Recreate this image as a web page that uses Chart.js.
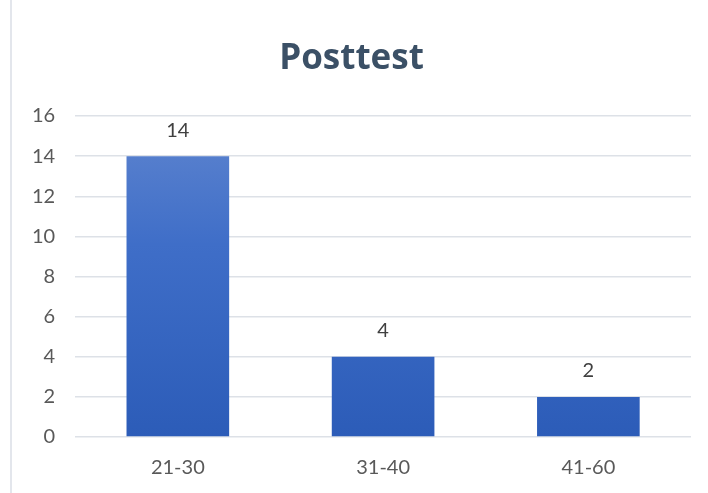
<!DOCTYPE html>
<html>
<head>
<meta charset="utf-8">
<script src="https://cdn.jsdelivr.net/npm/chart.js@4"></script>
<style>
  html, body { margin: 0; padding: 0; background: #fff; }
  #wrap { position: relative; width: 708px; height: 493px; }
  #wrap:before { content: ""; position: absolute; left: 10px; top: 0; bottom: 0; width: 2px; background: #e3e6ec; }
</style>
</head>
<body>
<div id="wrap"><canvas id="chart" width="708" height="493"></canvas></div>
<script>
var categories = ["21-30", "31-40", "41-60"];
var posttest = [14, 4, 2];
var yTicks = [0, 2, 4, 6, 8, 10, 12, 14, 16];

function barGradient(context) {
  var chart = context.chart;
  var area = chart.chartArea;
  if (!area) return "#3f6cc4";
  var el = context.element;
  var top = el && el.y != null ? el.y : area.top;
  var bottom = el && el.base != null ? el.base : area.bottom;
  if (!isFinite(top) || !isFinite(bottom) || top === bottom) return "#3f6cc4";
  var g = chart.ctx.createLinearGradient(0, top, 0, bottom);
  g.addColorStop(0, "#5f85cf");
  g.addColorStop(0.4, "#3f6ec8");
  g.addColorStop(1, "#2c5cb8");
  return g;
}

var valueLabels = {
  id: "valueLabels",
  afterDatasetsDraw: function (chart) {
    var ctx = chart.ctx;
    var meta = chart.getDatasetMeta(0);
    ctx.save();
    ctx.font = "20px Lato";
    ctx.fillStyle = "#404040";
    ctx.textAlign = "center";
    ctx.textBaseline = "bottom";
    meta.data.forEach(function (bar, i) {
      ctx.fillText(posttest[i], bar.x, bar.y - 16);
    });
    ctx.restore();
  }
};

var ctx = document.getElementById("chart").getContext("2d");

var chart = new Chart(ctx, {
  type: "bar",
  data: {
    labels: categories,
    datasets: [
      {
        label: "Posttest",
        data: posttest,
        backgroundColor: barGradient,
        barPercentage: 0.5,
        categoryPercentage: 1,
      },
    ],
  },
  options: {
    responsive: false,
    animation: false,
    layout: {
      padding: { left: 12, right: 17, top: 26, bottom: 2 },
    },
    plugins: {
      legend: { display: false },
      tooltip: { enabled: false },
      title: {
        display: true,
        text: "Posttest",
        color: "#3b5066",
        font: { family: "Open Sans", size: 35, weight: "bold" },
        padding: { top: 12, bottom: 36 },
      },
    },
    scales: {
      x: {
        grid: { display: false },
        border: { display: false },
        ticks: {
          color: "#595959",
          font: { family: "Lato", size: 20 },
          padding: 11,
        },
      },
      y: {
        min: 0,
        max: 16,
        afterBuildTicks: function (axis) {
          axis.ticks = yTicks.map(function (v) { return { value: v }; });
        },
        grid: { color: "#dde1e7", lineWidth: 1.5, drawTicks: false },
        border: { display: false },
        ticks: {
          color: "#595959",
          font: { family: "Lato", size: 20 },
          padding: 20,
        },
      },
    },
  },
  plugins: [valueLabels],
});
</script>
</body>
</html>
